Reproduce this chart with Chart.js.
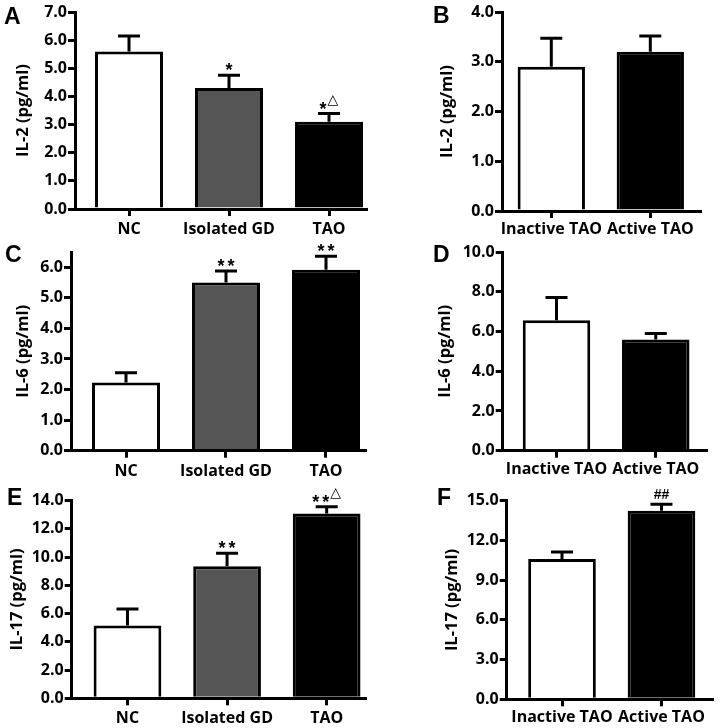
<!DOCTYPE html>
<html><head><meta charset="utf-8">
<script src="https://cdn.jsdelivr.net/npm/chart.js@4/dist/chart.umd.min.js"></script>
<style>
html,body{margin:0;padding:0;background:#fff;}
#wrap{position:relative;width:718px;height:728px;overflow:hidden;background:#fff}
canvas{position:absolute}
</style></head><body><div id="wrap">
<canvas id="cA" width="372" height="240" style="left:0;top:0"></canvas>
<canvas id="cB" width="346" height="240" style="left:372px;top:0"></canvas>
<canvas id="cC" width="372" height="240" style="left:0;top:240px"></canvas>
<canvas id="cD" width="346" height="240" style="left:372px;top:240px"></canvas>
<canvas id="cE" width="372" height="248" style="left:0;top:480px"></canvas>
<canvas id="cF" width="346" height="248" style="left:372px;top:480px"></canvas>
</div>
<script>
// ---- data ----
const groups3 = ['NC', 'Isolated GD', 'TAO'];
const groups2 = ['Inactive TAO', 'Active TAO'];

const il2Groups = [5.6, 4.3, 3.1];
const il2GroupsErr = [0.55, 0.45, 0.29];
const il2GroupsSig = ['', '*', '*△'];
const il2Activity = [2.9, 3.2];
const il2ActivityErr = [0.57, 0.32];
const il2ActivitySig = ['', ''];

const il6Groups = [2.23, 5.5, 5.92];
const il6GroupsErr = [0.32, 0.38, 0.44];
const il6GroupsSig = ['', '**', '**'];
const il6Activity = [6.57, 5.6];
const il6ActivityErr = [1.14, 0.3];
const il6ActivitySig = ['', ''];

const il17Groups = [5.15, 9.35, 13.1];
const il17GroupsErr = [1.18, 0.93, 0.47];
const il17GroupsSig = ['', '**', '**△'];
const il17Activity = [10.6, 14.25];
const il17ActivityErr = [0.53, 0.48];
const il17ActivitySig = ['', '##'];

const ticksA = [0, 1, 2, 3, 4, 5, 6, 7];
const ticksB = [0, 1, 2, 3, 4];
const ticksC = [0, 1, 2, 3, 4, 5, 6];
const ticksD = [0, 2, 4, 6, 8, 10];
const ticksE = [0, 2, 4, 6, 8, 10, 12, 14];
const ticksF = [0, 3, 6, 9, 12, 15];

const colors3 = ['#ffffff', '#555555', '#000000'];
const colors2 = ['#ffffff', '#000000'];

// ---- drawing ----
const FONT = '"Open Sans", Lato, sans-serif';
const STAR_FONT = 'bold 18px "Liberation Sans", Arial, sans-serif';
const HASH_FONT = 'bold 14px "Liberation Sans", Arial, sans-serif';
const TRI_FONT = '14px "DejaVu Sans"';

const errPlugin = {
  id: 'errbars',
  afterDatasetsDraw(chart) {
    const o = chart.options.plugins.errbars;
    const xs = chart.scales.x, ys = chart.scales.y, ctx = chart.ctx;
    ctx.save();
    ctx.strokeStyle = '#000';
    ctx.lineWidth = 3;
    o.vals.forEach((v, i) => {
      const x = xs.getPixelForValue(i);
      const y0 = ys.getPixelForValue(v);
      const y1 = ys.getPixelForValue(v + o.errs[i]);
      ctx.beginPath();
      ctx.moveTo(x, y0); ctx.lineTo(x, y1);
      ctx.moveTo(x - 11, y1); ctx.lineTo(x + 11, y1);
      ctx.stroke();
      const s = o.sigs[i];
      if (!s) return;
      const chars = Array.from(s);
      const bottom = y1 - 5;
      ctx.fillStyle = '#000';
      ctx.textAlign = 'left';
      ctx.textBaseline = 'alphabetic';
      const items = chars.map(ch => {
        const f = ch === '△' ? TRI_FONT : (ch === '#' ? HASH_FONT : STAR_FONT);
        ctx.font = f;
        const m = ctx.measureText(ch);
        const gap = ch === '*' ? 3 : (ch === '△' ? 1 : 0);
        return { ch, f, m, gap };
      });
      let total = 0;
      items.forEach((it, k) => { total += it.m.width + (k ? it.gap : 0); });
      let cx = x - total / 2;
      items.forEach((it, k) => {
        if (k) cx += it.gap;
        ctx.font = it.f;
        const b = it.ch === '△' ? bottom - 3 : bottom;
        ctx.fillText(it.ch, cx, b - it.m.actualBoundingBoxDescent);
        cx += it.m.width;
      });
    });
    ctx.restore();
  }
};

const letterPlugin = {
  id: 'letter',
  afterDraw(chart) {
    const o = chart.options.plugins.letter;
    const ctx = chart.ctx;
    ctx.save();
    ctx.fillStyle = '#000';
    ctx.font = 'bold 23px "Liberation Sans", Arial, sans-serif';
    ctx.textAlign = 'left';
    ctx.textBaseline = 'alphabetic';
    ctx.fillText(o.text, o.x, o.y);
    ctx.restore();
  }
};

function panel(id, cats, vals, errs, sigs, yTicks, yMax, colors, yTitle, letter, g) {
  new Chart(document.getElementById(id), {
    type: 'bar',
    data: {
      datasets: [{
        data: cats.map((c, i) => ({ x: i, y: vals[i] })),
        backgroundColor: colors,
        borderColor: '#000',
        borderWidth: 3,
        categoryPercentage: 1,
        barPercentage: 0.68
      }]
    },
    options: {
      responsive: false,
      animation: false,
      devicePixelRatio: 1,
      layout: { padding: { top: g.padTop, right: g.padRight, left: 0, bottom: 0 } },
      plugins: {
        legend: { display: false },
        tooltip: { enabled: false },
        errbars: { vals, errs, sigs },
        letter: { text: letter, x: g.lx, y: g.ly }
      },
      scales: {
        x: {
          type: 'linear',
          offset: false,
          min: g.xMin, max: g.xMax,
          afterBuildTicks: s => { s.ticks = cats.map((c, i) => ({ value: i })); },
          afterFit: s => { s.height = g.xH; },
          ticks: {
            callback: v => cats[v],
            font: { family: FONT, weight: 'bold', size: 16 },
            color: '#000', padding: g.lp, maxRotation: 0, autoSkip: false
          },
          grid: { offset: false, drawOnChartArea: false, drawTicks: true, tickLength: 7, lineWidth: 3, color: '#000' },
          border: { display: true, width: 3, color: '#000' }
        },
        y: {
          min: 0, max: yMax,
          afterBuildTicks: s => { s.ticks = yTicks.map(v => ({ value: v })); },
          afterFit: s => { s.width = g.yW; },
          ticks: {
            callback: v => Number(v).toFixed(1),
            font: { family: FONT, weight: 'bold', size: 16 },
            color: '#000', padding: 1
          },
          grid: { drawOnChartArea: false, drawTicks: true, tickLength: 7, lineWidth: 3, color: '#000' },
          border: { display: true, width: 3, color: '#000' },
          title: {
            display: true, text: yTitle, color: '#000',
            font: { family: FONT, weight: 'bold', size: 16.5, lineHeight: 1.2 },
            padding: { top: g.tc - 9.9, bottom: 0 }
          }
        }
      }
    },
    plugins: [errPlugin, letterPlugin]
  });
}

panel('cA', groups3, il2Groups, il2GroupsErr, il2GroupsSig, ticksA, 7, colors3, 'IL-2 (pg/ml)', 'A',
  { yW: 75, xH: 31, padTop: 12, padRight: 6, xMin: -0.54, xMax: 2.37, tc: 23.5, lx: 4, ly: 24, lp: 4 });
panel('cB', groups2, il2Activity, il2ActivityErr, il2ActivitySig, ticksB, 4, colors2, 'IL-2 (pg/ml)', 'B',
  { yW: 130, xH: 29, padTop: 12, padRight: 18, xMin: -0.498, xMax: 1.502, tc: 75, lx: 61, ly: 23, lp: 2 });
panel('cC', groups3, il6Groups, il6GroupsErr, il6GroupsSig, ticksC, 6.5, colors3, 'IL-6 (pg/ml)', 'C',
  { yW: 71, xH: 29.3, padTop: 12, padRight: 7, xMin: -0.55, xMax: 2.39, tc: 23.5, lx: 5, ly: 22, lp: 4 });
panel('cD', groups2, il6Activity, il6ActivityErr, il6ActivitySig, ticksD, 10, colors2, 'IL-6 (pg/ml)', 'D',
  { yW: 130.7, xH: 29.3, padTop: 12, padRight: 11.3, xMin: -0.542, xMax: 1.513, tc: 73.5, lx: 61, ly: 22, lp: 2 });
panel('cE', groups3, il17Groups, il17GroupsErr, il17GroupsSig, ticksE, 14, colors3, 'IL-17 (pg/ml)', 'E',
  { yW: 71.7, xH: 29.7, padTop: 20.7, padRight: 7, xMin: -0.56, xMax: 2.385, tc: 17.5, lx: 7, ly: 25, lp: 4 });
panel('cF', groups2, il17Activity, il17ActivityErr, il17ActivitySig, ticksF, 15, colors2, 'IL-17 (pg/ml)', 'F',
  { yW: 134.7, xH: 28.7, padTop: 20.7, padRight: 5.3, xMin: -0.556, xMax: 1.515, tc: 80, lx: 65, ly: 25, lp: 2 });
</script>
</body></html>
